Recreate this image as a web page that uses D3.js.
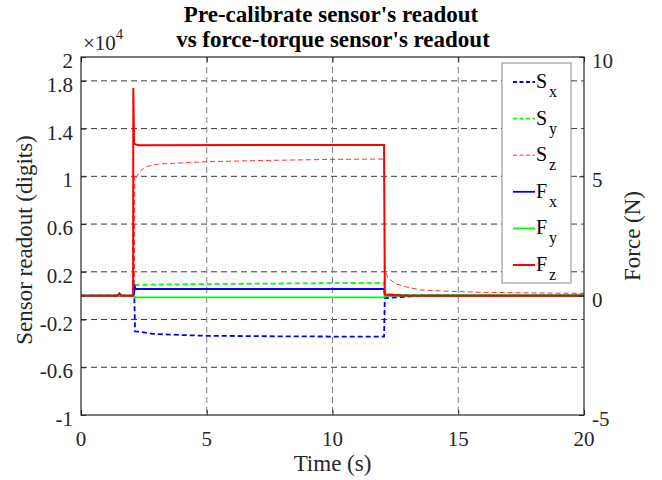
<!DOCTYPE html>
<html>
<head>
<meta charset="utf-8">
<script src="https://cdn.jsdelivr.net/npm/d3@7"></script>
<style>
  body { margin: 0; background: #fff; }
</style>
</head>
<body>
<script>
'use strict';

// sensor readouts (digits), [time s, value]
let sxData = [[0, 0], [2.12, 0], [2.15, -3000], [2.35, -3020], [2.85, -3200], [4, -3300], [4.9, -3360], [8, -3410], [12.05, -3440], [12.08, -200], [12.5, -150], [13.2, -40], [14, 0], [20, 0]];
let syData = [[0, 0], [2.12, 0], [2.14, 900], [3, 930], [6, 990], [10, 1050], [12.05, 1080], [12.08, 120], [13, 60], [20, 40]];
let szData = [[0, 0], [2.12, 0], [2.14, 10100], [2.2, 9900], [2.3, 10300], [2.55, 10800], [3.07, 11030], [4.94, 11220], [7, 11320], [10, 11420], [12.05, 11450],
  [12.08, 2200], [12.2, 1500], [12.5, 1000], [12.9, 750], [13.5, 480], [14.5, 380], [15.9, 280], [18, 230], [20, 190]];

// force-torque readouts (N), [time s, value]
let fxData = [[0, 0], [2.11, 0], [2.12, 0.45], [2.17, 0.28], [6, 0.28], [12.05, 0.28], [12.08, 0], [20, 0]];
let fyData = [[0, 0], [2.12, 0], [2.13, -0.07], [8, -0.07], [12.05, -0.07], [12.08, 0], [20, 0]];
let fzData = [[0, 0], [1.45, 0], [1.53, 0.1], [1.6, 0], [2.07, 0], [2.08, 8.7], [2.11, 6.4], [2.15, 6.35], [2.3, 6.3], [8, 6.31], [12.05, 6.31], [12.08, 0.05], [13, 0], [20, 0]];

// tick labels
let xTicks = [0, 5, 10, 15, 20];
let yLeftTicks = [-10000, -6000, -2000, 2000, 6000, 10000, 14000, 18000, 20000];
let yRightTicks = [-5, 0, 5, 10];

let legendItems = [
  { base: "S", sub: "x", color: "#0000ff", dash: true, data: sxData },
  { base: "S", sub: "y", color: "#00ff00", dash: true, data: syData },
  { base: "S", sub: "z", color: "#ff3030", dash: true, data: szData },
  { base: "F", sub: "x", color: "#0000ff", dash: false, data: fxData },
  { base: "F", sub: "y", color: "#00ff00", dash: false, data: fyData },
  { base: "F", sub: "z", color: "#ff0000", dash: false, data: fzData }
];

let font = "'Liberation Serif', 'Times New Roman', serif";
let margin = { top: 57, left: 81, bottom: 65, right: 78 };
let W = 662, H = 480;
let width = W - margin.left - margin.right,
  height = H - margin.top - margin.bottom;

let svg = d3.select("body").append("svg")
  .attr("width", W)
  .attr("height", H)
  .attr("font-family", font);

let x = d3.scaleLinear().domain([0, 20]).range([margin.left, margin.left + width]);
let yL = d3.scaleLinear().domain([-10000, 20000]).range([margin.top + height, margin.top]);
let yR = d3.scaleLinear().domain([-5, 10]).range([margin.top + height, margin.top]);

// grid
svg.append("g")
  .selectAll("line")
  .data([-6000, -2000, 2000, 6000, 10000, 14000, 18000])
  .enter().append("line")
  .attr("x1", margin.left).attr("x2", margin.left + width)
  .attr("y1", d => yL(d)).attr("y2", d => yL(d))
  .style("stroke", "#3a3a3a")
  .style("stroke-dasharray", "6,4");

svg.append("g")
  .selectAll("line")
  .data([5, 10, 15])
  .enter().append("line")
  .attr("x1", d => x(d)).attr("x2", d => x(d))
  .attr("y1", margin.top).attr("y2", margin.top + height)
  .style("stroke", "#808080")
  .style("stroke-dasharray", "6,4");

// data lines
let line = (yScale) => d3.line().x(d => x(d[0])).y(d => yScale(d[1]));
let lineWidth = item => item.sub === "z" && item.dash ? 1 : (item.sub === "z" ? 2 : 1.8);

legendItems.forEach((item, i) => {
  let yScale = item.base === "S" ? yL : yR;
  svg.append("path")
    .datum(item.data)
    .attr("fill", "none")
    .attr("stroke", item.color)
    .attr("stroke-width", lineWidth(item))
    .attr("stroke-dasharray", item.dash ? "5,3" : null)
    .attr("d", line(yScale));
});

// axes
let axisColor = "#262626";
svg.append("g")
  .attr("transform", "translate(0," + (margin.top + height) + ")")
  .call(d3.axisBottom(x).tickValues(xTicks).tickSize(-5).tickFormat(""))
  .call(g => g.select(".domain").remove())
  .call(g => g.selectAll("line").attr("stroke", axisColor));

svg.append("g")
  .attr("transform", "translate(0," + margin.top + ")")
  .call(d3.axisTop(x).tickValues(xTicks).tickSize(-5).tickFormat(""))
  .call(g => g.select(".domain").remove())
  .call(g => g.selectAll("line").attr("stroke", axisColor));

svg.append("g")
  .attr("transform", "translate(" + margin.left + ",0)")
  .call(d3.axisLeft(yL).tickValues(yLeftTicks).tickSize(-5).tickFormat(""))
  .call(g => g.select(".domain").remove())
  .call(g => g.selectAll("line").attr("stroke", axisColor));

svg.append("g")
  .attr("transform", "translate(" + (margin.left + width) + ",0)")
  .call(d3.axisRight(yR).tickValues(yRightTicks).tickSize(-5).tickFormat(""))
  .call(g => g.select(".domain").remove())
  .call(g => g.selectAll("line").attr("stroke", axisColor));

svg.append("rect")
  .attr("x", margin.left).attr("y", margin.top)
  .attr("width", width).attr("height", height)
  .attr("fill", "none")
  .attr("stroke", axisColor)
  .attr("stroke-width", 1.2);

// labels helper
function label(sel, size, color) {
  return sel.attr("font-family", font)
    .attr("font-size", size + "px")
    .attr("fill", color || axisColor);
}

// tick labels
svg.append("g").selectAll("text")
  .data(xTicks).enter().append("text")
  .call(s => label(s, 21))
  .attr("x", d => x(d))
  .attr("y", margin.top + height + 31)
  .attr("text-anchor", "middle")
  .text(d => d);

svg.append("g").selectAll("text")
  .data(yLeftTicks).enter().append("text")
  .call(s => label(s, 21))
  .attr("x", margin.left - 8)
  .attr("y", d => yL(d) + 11)
  .attr("text-anchor", "end")
  .text(d => String(d / 10000));

svg.append("g").selectAll("text")
  .data(yRightTicks).enter().append("text")
  .call(s => label(s, 21))
  .attr("x", margin.left + width + 8)
  .attr("y", d => yR(d) + 11)
  .attr("text-anchor", "start")
  .text(d => d);

// exponent
let expo = svg.append("text")
  .call(s => label(s, 21))
  .attr("x", 83)
  .attr("y", 50);
expo.append("tspan").text("\u00d710");
expo.append("tspan").attr("dy", -11).attr("font-size", "15px").text("4");

// axis labels
svg.append("text")
  .call(s => label(s, 23))
  .attr("x", x(10))
  .attr("y", margin.top + height + 56)
  .attr("text-anchor", "middle")
  .text("Time (s)");

svg.append("text")
  .call(s => label(s, 23))
  .attr("transform", "translate(32," + (margin.top + height / 2 + 4) + ") rotate(-90)")
  .attr("text-anchor", "middle")
  .text("Sensor readout (digits)");

svg.append("text")
  .call(s => label(s, 23))
  .attr("transform", "translate(640," + (margin.top + height / 2) + ") rotate(-90)")
  .attr("text-anchor", "middle")
  .text("Force (N)");

// title
svg.append("text")
  .call(s => label(s, 23, "#000"))
  .attr("x", 331).attr("y", 22)
  .attr("text-anchor", "middle")
  .attr("font-weight", "bold")
  .text("Pre-calibrate sensor's readout");
svg.append("text")
  .call(s => label(s, 23, "#000"))
  .attr("x", 333).attr("y", 47)
  .attr("text-anchor", "middle")
  .attr("font-weight", "bold")
  .text("vs force-torque sensor's readout");

// legend
let leg = svg.append("g");
leg.append("rect")
  .attr("x", 502).attr("y", 63)
  .attr("width", 69).attr("height", 220)
  .attr("fill", "#fff")
  .attr("stroke", "#8a8a8a");

legendItems.forEach((item, i) => {
  let ly = 82 + i * 36.6;
  leg.append("line")
    .attr("x1", 513).attr("x2", 535)
    .attr("y1", ly).attr("y2", ly)
    .attr("stroke", item.color)
    .attr("stroke-width", lineWidth(item))
    .attr("stroke-dasharray", item.dash ? "4,2.5" : null);
  leg.append("text")
    .call(s => label(s, 20, "#000"))
    .attr("x", 536).attr("y", ly + 6)
    .text(item.base);
  leg.append("text")
    .call(s => label(s, 16, "#000"))
    .attr("x", 549).attr("y", ly + 15)
    .text(item.sub);
});
</script>
</body>
</html>
